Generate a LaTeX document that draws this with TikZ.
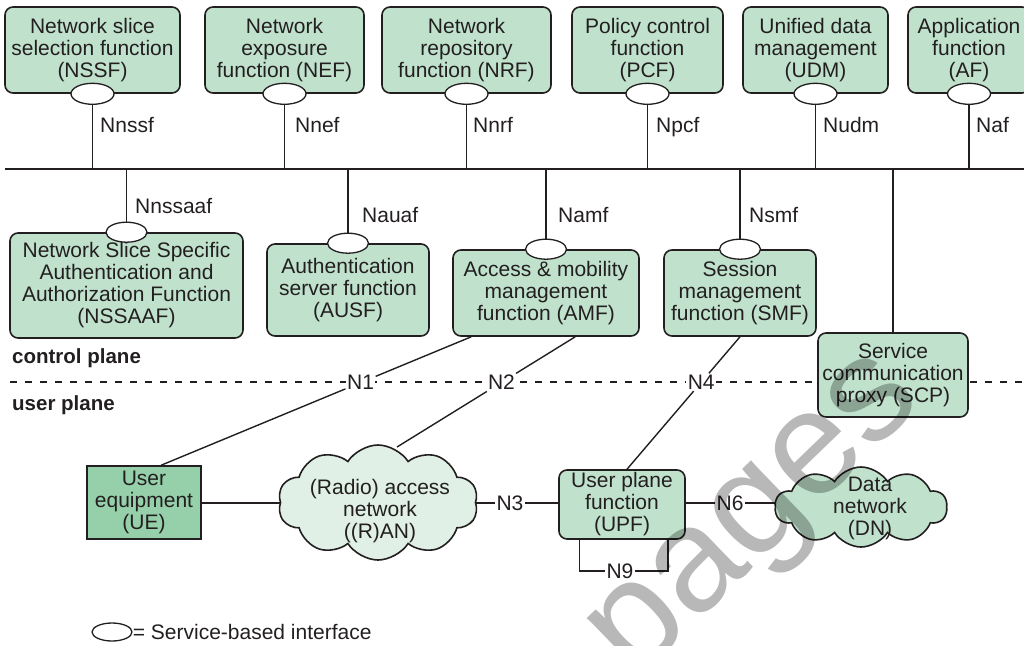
\documentclass[tikz,border=0pt]{standalone}
\usepackage{fontspec}
\setmainfont{Liberation Sans}
\usetikzlibrary{shapes.geometric,shapes.symbols,calc}
\definecolor{ink}{HTML}{231F20}
\definecolor{nffill}{HTML}{C0E2CC}
\definecolor{uefill}{HTML}{96D0AA}
\definecolor{ranfill}{HTML}{E0F0E6}

\begin{document}
\begin{tikzpicture}[x=1pt,y=-1pt,
  every node/.style={text=ink},
  txt/.style={font=\fontsize{21}{22}\selectfont, align=center},
  nfbox/.style={draw=ink, line width=1.6pt, fill=nffill, rounded corners=8pt, inner sep=0pt, txt},
  uebox/.style={draw=ink, line width=1.6pt, fill=uefill, inner sep=0pt, txt},
  sbi/.style={ellipse, draw=ink, line width=1.3pt, fill=white, inner sep=0pt, minimum width=43pt, minimum height=21pt},
  sbismall/.style={sbi, minimum width=41pt, minimum height=20pt},
  wire/.style={draw=ink, line width=1.4pt},
  iflabel/.style={font=\fontsize{21}{22}\selectfont, inner sep=0pt, anchor=base west},
  reflabel/.style={font=\fontsize{21}{22}\selectfont, fill=white, inner sep=1.5pt},
  planelabel/.style={font=\bfseries\fontsize{20.5}{22}\selectfont, inner sep=0pt, anchor=base west},
  cloudnet/.style={cloud, cloud puffs=10, cloud puff arc=115, draw=ink, line width=1.6pt, inner sep=0pt},
  watermark/.style={font=\fontsize{148}{148}\selectfont, text=black, opacity=0.28, inner sep=0pt},
]
\path[use as bounding box, clip] (0,0) rectangle (1024,645);

% service bus and plane separator
\coordinate (busW) at (5,169);
\coordinate (busE) at (1030,169);
\coordinate (planeW) at (10,382);
\coordinate (planeE) at (1030,382);
\draw[wire, line width=2pt] (busW) -- (busE);
\draw[ink, line width=1.3pt, dash pattern=on 7pt off 8pt] (planeW) -- (planeE);

% upper row of network functions
\node[nfbox, minimum width=175pt, minimum height=86pt] (nssf) at (92.5,50) {Network slice\\selection function\\(NSSF)};
\node[nfbox, minimum width=159pt, minimum height=86pt] (nef) at (284.5,50) {Network\\exposure\\function (NEF)};
\node[nfbox, minimum width=169pt, minimum height=86pt] (nrf) at (466.5,50) {Network\\repository\\function (NRF)};
\node[nfbox, minimum width=151pt, minimum height=86pt] (pcf) at (647.5,50) {Policy control\\function\\(PCF)};
\node[nfbox, minimum width=145pt, minimum height=86pt] (udm) at (815.5,50) {Unified data\\management\\(UDM)};
\node[nfbox, minimum width=122pt, minimum height=86pt] (af) at (969,50) {Application\\function\\(AF)};

\foreach \nf in {nssf,nef,nrf,pcf,udm,af}{
  \node[sbi] (s-\nf) at (\nf.south) {};
  \draw[wire] (s-\nf.south) -- (s-\nf.south |- busW);
}
\node[iflabel] (l-nssf) at (100,132) {Nnssf};
\node[iflabel] (l-nef) at (295,132) {Nnef};
\node[iflabel] (l-nrf) at (473,132) {Nnrf};
\node[iflabel] (l-pcf) at (656,132) {Npcf};
\node[iflabel] (l-udm) at (823,132) {Nudm};
\node[iflabel] (l-af) at (976,132) {Naf};

% lower row of network functions
\node[nfbox, minimum width=233pt, minimum height=105pt] (nssaaf) at (126.5,285.5) {Network Slice Specific\\Authentication and\\Authorization Function\\(NSSAAF)};
\node[nfbox, minimum width=162pt, minimum height=92pt] (ausf) at (348,290) {Authentication\\server function\\(AUSF)};
\node[nfbox, minimum width=186pt, minimum height=86pt] (amf) at (546,293) {Access \& mobility\\management\\function (AMF)};
\node[nfbox, minimum width=152pt, minimum height=86pt] (smf) at (740,293) {Session\\management\\function (SMF)};
\node[nfbox, minimum width=150pt, minimum height=84pt] (scp) at (893,375) {Service\\communication\\proxy (SCP)};

\foreach \nf in {nssaaf,ausf,amf,smf}{
  \node[sbismall] (s-\nf) at (\nf.north) {};
  \draw[wire] (s-\nf.north) -- (s-\nf.north |- busW);
}
\draw[wire] (scp.north) -- (scp.north |- busW);
\node[iflabel] (l-nssaaf) at (135,213) {Nnssaaf};
\node[iflabel] (l-ausf) at (362,222) {Nauaf};
\node[iflabel] (l-amf) at (558,222) {Namf};
\node[iflabel] (l-smf) at (749,222) {Nsmf};

\node[planelabel] (cp) at (12,363) {control plane};
\node[planelabel] (up) at (12,410) {user plane};

% user plane
\node[uebox, minimum width=114pt, minimum height=73pt] (ue) at (144,502.5) {User\\equipment\\(UE)};
\node[cloudnet, fill=ranfill, minimum width=200pt, minimum height=115pt, aspect=1.74] (ran) at (378,502.5) {};
\node[txt] (ran-text) at (380,511) {(Radio) access\\network\\((R)AN)};
\node[nfbox, minimum width=126pt, minimum height=69pt] (upf) at (622,504.5) {User plane\\function\\(UPF)};
\node[cloudnet, fill=nffill, minimum width=172pt, minimum height=80pt, aspect=2.15] (dn) at (861,507) {};
\node[txt] (dn-text) at (870,508) {Data\\network\\(DN)};

% reference points
\coordinate (amfN1) at ($(amf.south west)+(19,0)$);
\coordinate (ueN1) at ($(ue.north west)+(75,0)$);
\coordinate (amfN2) at ($(amf.south west)+(123,0)$);
\coordinate (ranN2) at (397,447);
\coordinate (upfN4) at ($(upf.north)+(5,0)$);
\node[reflabel] (n1) at ($(amfN1)!0.357!(ueN1)$) {N1};
\node[reflabel] (n2) at ($(amfN2)!0.414!(ranN2)$) {N2};
\node[reflabel] (n4) at ($(smf.south)!0.343!(upfN4)$) {N4};
\node[reflabel] (n3) at (510,503) {N3};
\node[reflabel] (n6) at (730,503) {N6};
\node[reflabel] (n9) at (620,571) {N9};

\draw[wire] (amfN1) -- (n1) -- (ueN1);
\draw[wire] (amfN2) -- (n2) -- (ranN2);
\draw[wire] (smf.south) -- (n4) -- (upfN4);
\draw[wire] (ue.east |- n3) -- (ran.west |- n3);
\draw[wire] (ran.east |- n3) -- (n3) -- (n3 -| upf.west);
\draw[wire] (n6 -| upf.east) -- (n6) -- (n6 -| dn.west);
\draw[wire] ($(upf.south west)+(21,0)$) |- (n9) -| ($(upf.south east)+(-18,0)$);

% legend
\node[sbi, minimum width=40pt, minimum height=18pt] (legend-sbi) at (112,632) {};
\node[font=\fontsize{21}{22}\selectfont, inner sep=0pt, anchor=west] (legend-text) at (legend-sbi.east) {= Service-based interface};

% overlay mark
\node[watermark, rotate=44, anchor=mid] (wm) at (778,540) {pages};
\end{tikzpicture}
\end{document}
